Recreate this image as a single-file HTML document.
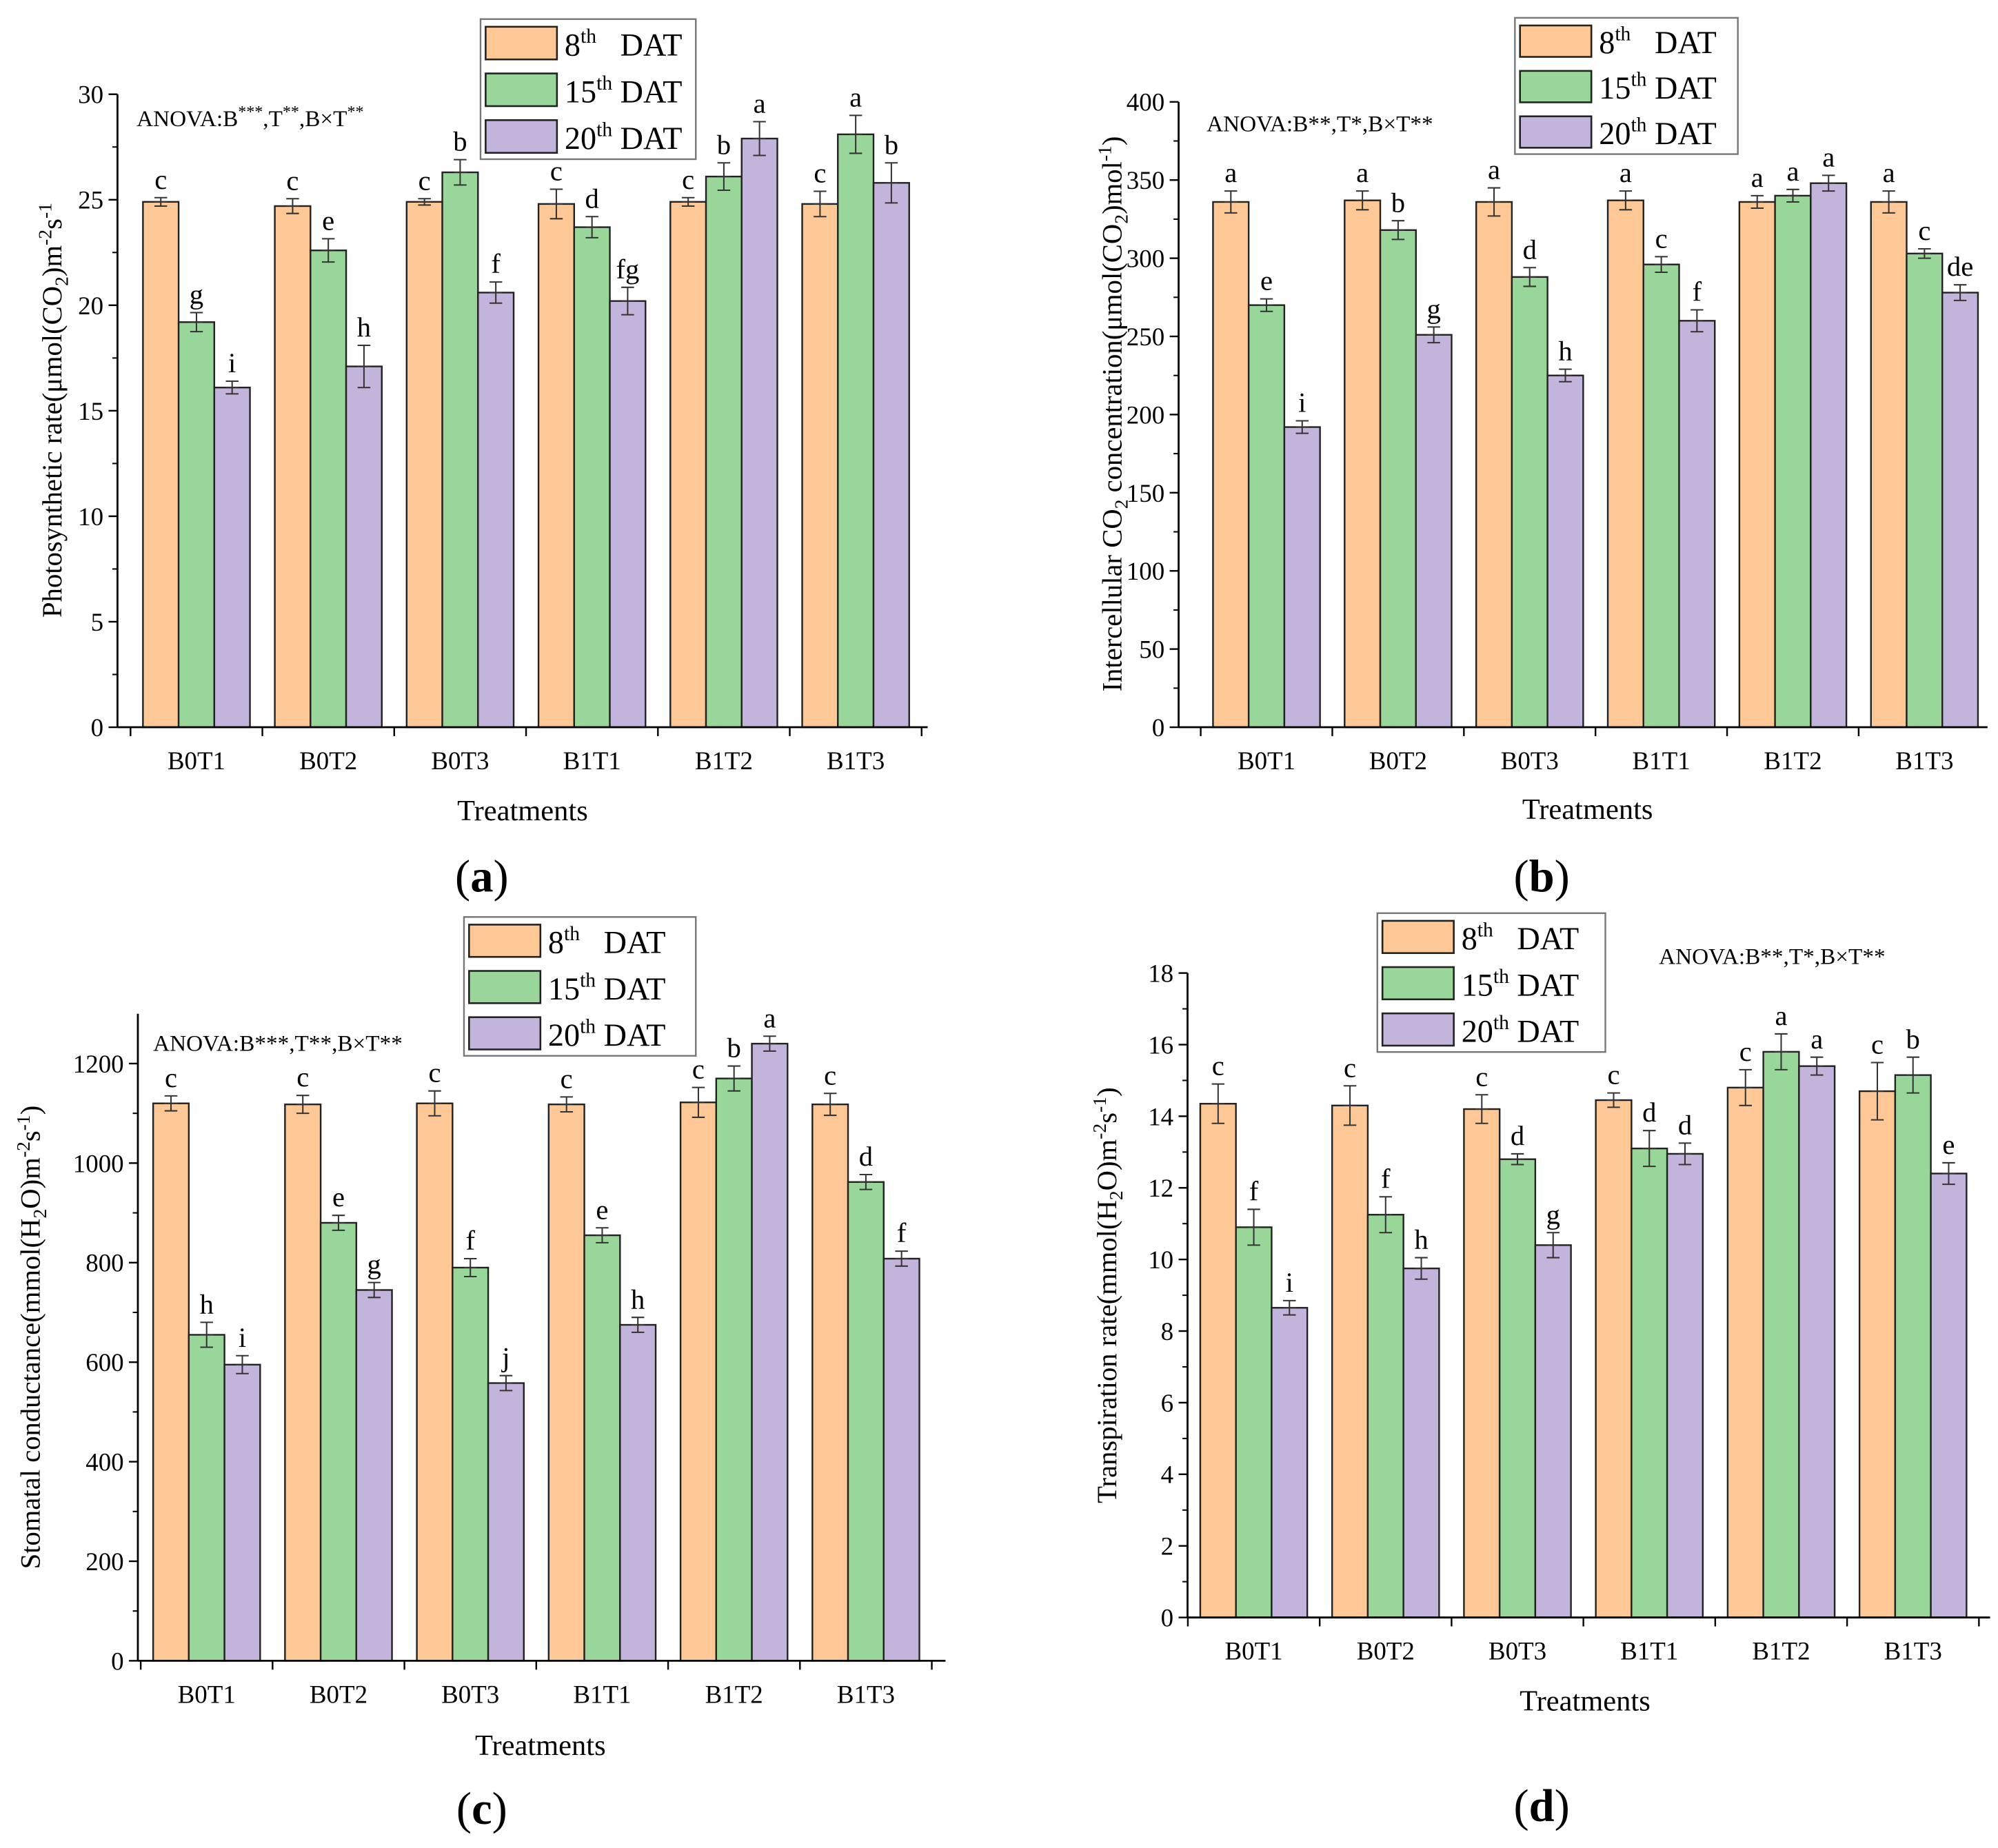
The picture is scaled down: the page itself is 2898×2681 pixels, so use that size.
<!DOCTYPE html>
<html><head><meta charset="utf-8"><style>
html,body{margin:0;padding:0;background:#fff;}
svg{display:block;font-family:"Liberation Serif",serif;}
svg text{font-family:"Liberation Serif",serif;}
</style></head><body>
<svg id="fig" width="2898" height="2681" viewBox="0 0 1568 1451" xmlns="http://www.w3.org/2000/svg">
<rect width="1568" height="1451" fill="#fff"/>
</svg>
<script>
const categories=["B0T1","B0T2","B0T3","B1T1","B1T2","B1T3"];
const seriesNames=["8th","15th","20th"];
// Panel a
const aV8=[24.9,24.7,24.9,24.8,24.9,24.8], aE8=[0.2,0.35,0.15,0.7,0.2,0.6];
const aV15=[19.2,22.6,26.3,23.7,26.1,28.1], aE15=[0.45,0.55,0.6,0.5,0.65,0.9];
const aV20=[16.1,17.1,20.6,20.2,27.9,25.8], aE20=[0.3,1.0,0.5,0.65,0.8,0.95];
const aL8=["c","c","c","c","c","c"], aL15=["g","e","b","d","b","a"], aL20=["i","h","f","fg","a","b"];
const aTicks=[0,5,10,15,20,25,30];
// Panel b
const bV8=[336,337,336,337,336,336], bE8=[7,6,9,6,4,7];
const bV15=[270,318,288,296,340,303], bE15=[4,6,6,5,4,3];
const bV20=[192,251,225,260,348,278], bE20=[4,5,4,7,5,5];
const bL8=["a","a","a","a","a","a"], bL15=["e","b","d","c","a","c"], bL20=["i","g","h","f","a","de"];
const bTicks=[0,50,100,150,200,250,300,350,400];
// Panel c
const cV8=[1120,1118,1120,1118,1122,1118], cE8=[15,18,25,15,30,22];
const cV15=[655,880,790,855,1170,962], cE15=[25,15,18,15,25,15];
const cV20=[595,745,558,675,1240,808], cE20=[18,15,15,15,15,15];
const cL8=["c","c","c","c","c","c"], cL15=["h","e","f","e","b","d"], cL20=["i","g","j","h","a","f"];
const cTicks=[0,200,400,600,800,1000,1200];
// Panel d
const dV8=[14.35,14.3,14.2,14.45,14.8,14.7], dE8=[0.55,0.55,0.4,0.2,0.5,0.8];
const dV15=[10.9,11.25,12.8,13.1,15.8,15.15], dE15=[0.5,0.5,0.15,0.5,0.5,0.5];
const dV20=[8.65,9.75,10.4,12.95,15.4,12.4], dE20=[0.2,0.3,0.35,0.3,0.25,0.3];
const dL8=["c","c","c","c","c","c"], dL15=["f","f","d","d","a","b"], dL20=["i","h","g","d","a","e"];
const dTicks=[0,2,4,6,8,10,12,14,16,18];

const NS="http://www.w3.org/2000/svg";
const svg=document.getElementById('fig');
const COLORS=["#FDC895","#99D699","#C2B4DA"];
function mk(tag,attrs,parent,text){const e=document.createElementNS(NS,tag);for(const k in attrs)e.setAttribute(k,attrs[k]);if(text!==undefined)e.textContent=text;(parent||svg).appendChild(e);return e;}

function panel(p){
  const g=mk('g',{});
  
  
  const y=v=>p.y0-(v-p.min)/(p.max-p.min)*(p.y0-p.yTop);
  const cx=i=>p.x0+p.first+i*p.step;
  const bw=28;
  const vals=[p.v8,p.v15,p.v20], errs=[p.e8,p.e15,p.e20], labs=[p.l8,p.l15,p.l20];
  categories.forEach((c,i)=>{
    for(let s=0;s<3;s++){
      const x=cx(i)+(s-1.5)*bw, v=vals[s][i], e=errs[s][i];
      const r=mk('rect',{x:x,y:y(v),width:bw,height:p.y0-y(v),fill:COLORS[s],stroke:'#222','stroke-width':1.3},g);
      
      
      const m=x+bw/2;
      const eb=mk('path',{d:`M${m},${y(v+e)}V${y(v-e)}M${m-5},${y(v+e)}H${m+5}M${m-5},${y(v-e)}H${m+5}M${m-5},${y(v)}H${m+5}`,stroke:'#333','stroke-width':1.1,fill:'none'},g);
      
      
      const t=mk('text',{x:m,y:y(v+e)-7,'text-anchor':'middle','font-size':22},g,labs[s][i]);
      
      
    }
    const tl=mk('text',{x:cx(i),y:p.y0+33,'text-anchor':'middle','font-size':20},g,c);
    
    
  });
  mk('line',{x1:p.x0,y1:p.yTop,x2:p.x0,y2:p.y0,stroke:'#000','stroke-width':1.5},g);
  mk('line',{x1:p.x0,y1:p.y0,x2:p.xR,y2:p.y0,stroke:'#000','stroke-width':1.5},g);
  for(let i=0;i<=6;i++){const xx=cx(i)-p.step/2;if(xx<=p.xR)mk('line',{x1:xx,y1:p.y0,x2:xx,y2:p.y0+7,stroke:'#000','stroke-width':1.3},g);}
  p.ticks.forEach((tv,k)=>{
    mk('line',{x1:p.x0-7,y1:y(tv),x2:p.x0,y2:y(tv),stroke:'#000','stroke-width':1.3},g);
    if(k<p.ticks.length-1){const mv=(tv+p.ticks[k+1])/2;mk('line',{x1:p.x0-4,y1:y(mv),x2:p.x0,y2:y(mv),stroke:'#000','stroke-width':1.1},g);}
    const t=mk('text',{x:p.x0-11,y:y(tv)+7,'text-anchor':'end','font-size':20},g,tv);
    
    
  });
  const xt=mk('text',{x:p.xtX,y:p.xtY,'text-anchor':'middle','font-size':23},g,'Treatments');
  
  
  const yt=mk('text',{x:0,y:0,'text-anchor':'middle','font-size':22,transform:`translate(${p.ytX},${p.ytY}) rotate(-90)`},g);
  yt.innerHTML=p.ytHtml;
  
  
  const an=mk('text',{x:p.anX,y:p.anY,'font-size':18},g);
  an.innerHTML=p.anHtml;
  
  
  const pl=mk('text',{x:p.plX,y:p.plY,'text-anchor':'middle','font-size':36},g);
  pl.innerHTML='(<tspan font-weight="bold">'+p.id+'</tspan>)';
  
  
  const L=p.leg;
  const lg=mk('g',{},g);
  
  
  mk('rect',{x:L[0],y:L[1],width:L[2],height:L[3],fill:'#fff',stroke:'#777','stroke-width':1.3},lg);
  const rh=L[3]/3;
  seriesNames.forEach((s,k)=>{
    const ry=L[1]+k*rh;
    const sw=mk('rect',{x:L[0]+4,y:ry+6,width:56,height:rh-11,fill:COLORS[k],stroke:'#222','stroke-width':1.4},lg);
    
    
    const num=s.replace('th','');
    const t=mk('text',{x:L[0]+66,y:ry+rh-8,'font-size':25},lg);
    t.innerHTML=num+'<tspan dy="-10" font-size="16">th</tspan><tspan dy="10">'+(num.length===1?'\u2002 ':' ')+'DAT</tspan>';
    
    
  });
}
const sup=(s)=>'<tspan dy="-7" font-size="13">'+s+'</tspan><tspan dy="7">';
panel({id:'a',x0:92,xR:728,y0:571,yTop:74,min:0,max:30,first:62,step:103.5,ticks:aTicks,
  v8:aV8,e8:aE8,v15:aV15,e15:aE15,v20:aV20,e20:aE20,l8:aL8,l15:aL15,l20:aL20,
  xtX:410,xtY:644,ytX:48,ytY:322,ytHtml:'Photosynthetic rate(μmol(CO<tspan dy="5" font-size="15">2</tspan><tspan dy="-5">)m</tspan><tspan dy="-8" font-size="15">-2</tspan><tspan dy="8">s</tspan><tspan dy="-8" font-size="15">-1</tspan>',
  anX:107,anY:99,anHtml:'ANOVA:B'+sup('***')+',T</tspan>'+sup('**')+',B×T</tspan>'+sup('**')+'</tspan>',
  plX:378,plY:700,leg:[377,15,169,110]});
panel({id:'b',x0:925,xR:1560,y0:571,yTop:80,min:0,max:400,first:69,step:103.3,ticks:bTicks,
  v8:bV8,e8:bE8,v15:bV15,e15:bE15,v20:bV20,e20:bE20,l8:bL8,l15:bL15,l20:bL20,
  xtX:1246,xtY:643,ytX:880,ytY:325,ytHtml:'Intercellular CO<tspan dy="5" font-size="15">2</tspan><tspan dy="-5"> concentration(μmol(CO</tspan><tspan dy="5" font-size="15">2</tspan><tspan dy="-5">)mol</tspan><tspan dy="-8" font-size="15">-1</tspan><tspan dy="8">)</tspan>',
  anX:947,anY:103,anHtml:'ANOVA:B**,T*,B×T**',
  plX:1210,plY:700,leg:[1189,14,175,107]});
panel({id:'c',x0:108,xR:742,y0:1304,yTop:796,min:0,max:1300,first:54,step:103.5,ticks:cTicks,
  v8:cV8,e8:cE8,v15:cV15,e15:cE15,v20:cV20,e20:cE20,l8:cL8,l15:cL15,l20:cL20,
  xtX:424,xtY:1378,ytX:31,ytY:1050,ytHtml:'Stomatal conductance(mmol(H<tspan dy="5" font-size="15">2</tspan><tspan dy="-5">O)m</tspan><tspan dy="-8" font-size="15">-2</tspan><tspan dy="8">s</tspan><tspan dy="-8" font-size="15">-1</tspan><tspan dy="8">)</tspan>',
  anX:120,anY:825,anHtml:'ANOVA:B***,T**,B×T**',
  plX:378,plY:1432,leg:[364,720,182,109]});
panel({id:'d',x0:932,xR:1562,y0:1270,yTop:764,min:0,max:18,first:52,step:103.5,ticks:dTicks,
  v8:dV8,e8:dE8,v15:dV15,e15:dE15,v20:dV20,e20:dE20,l8:dL8,l15:dL15,l20:dL20,
  xtX:1244,xtY:1343,ytX:876,ytY:1017,ytHtml:'Transpiration rate(mmol(H<tspan dy="5" font-size="15">2</tspan><tspan dy="-5">O)m</tspan><tspan dy="-8" font-size="15">-2</tspan><tspan dy="8">s</tspan><tspan dy="-8" font-size="15">-1</tspan><tspan dy="8">)</tspan>',
  anX:1302,anY:757,anHtml:'ANOVA:B**,T*,B×T**',
  plX:1210,plY:1430,leg:[1081,717,179,109]});
</script>
</body></html>
